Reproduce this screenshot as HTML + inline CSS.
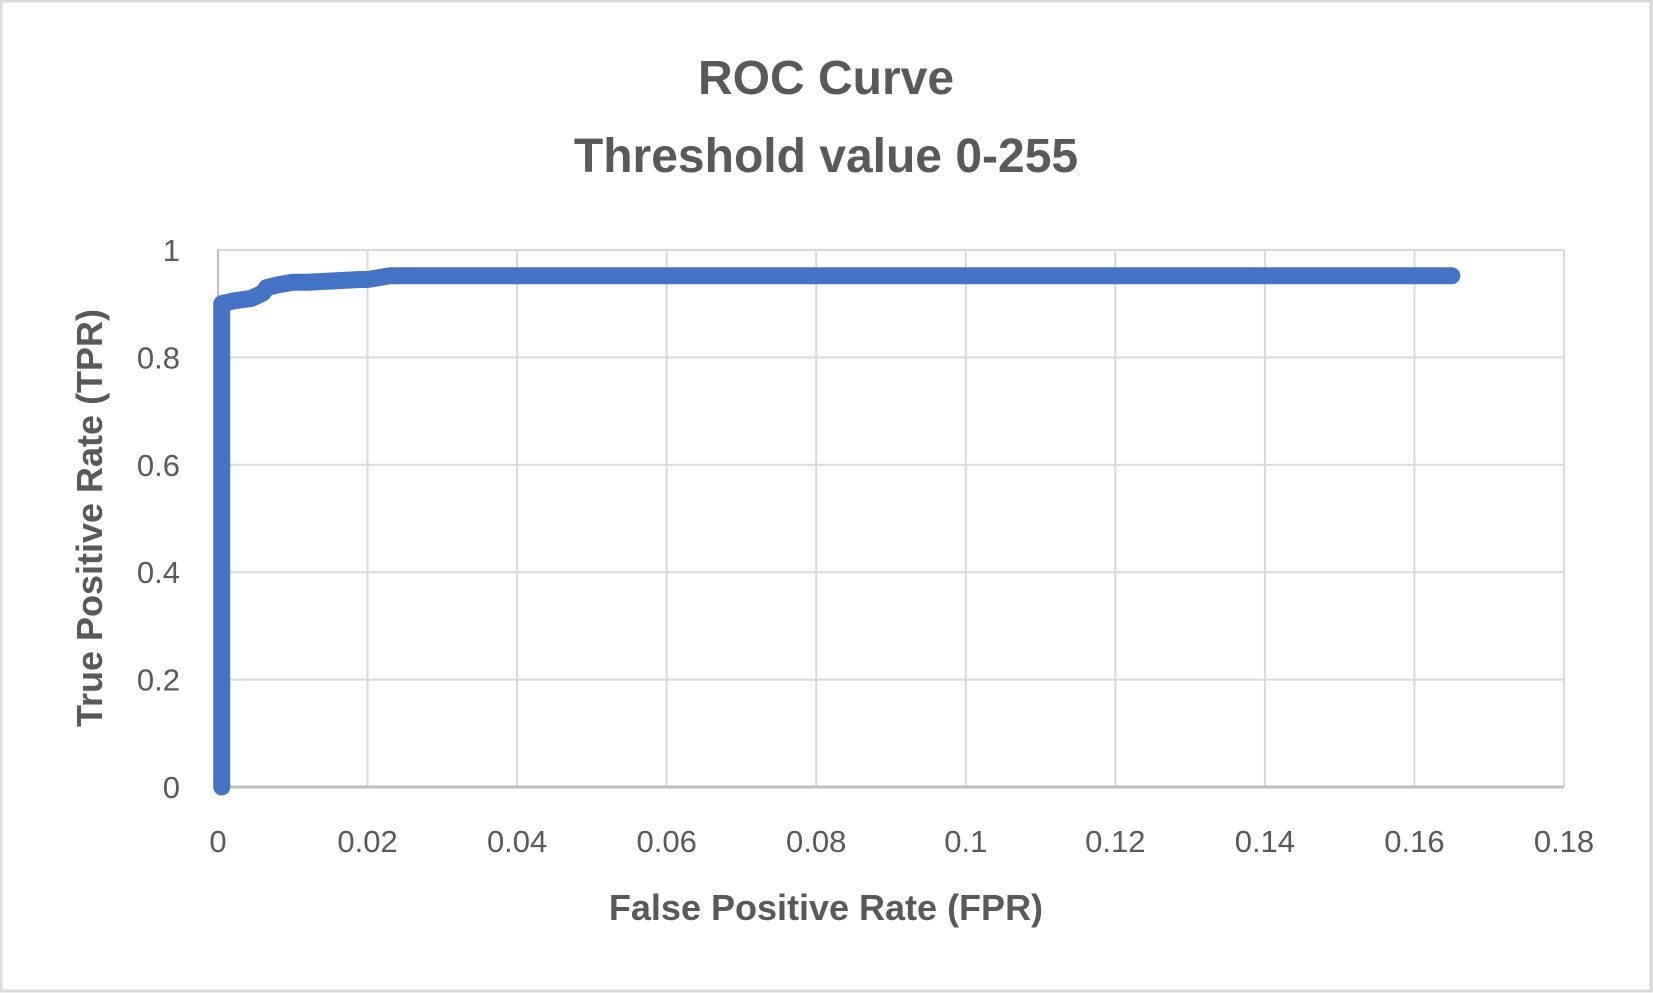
<!DOCTYPE html>
<html><head><meta charset="utf-8"><style>
body{margin:0;background:#fff}
svg{display:block;font-family:"Liberation Sans",sans-serif}
</style></head><body>
<svg width="1653" height="993">
<rect x="1" y="1" width="1650" height="990" fill="#fff" stroke="#d9d9d9" stroke-width="3"/>
<text x="826" y="94" text-anchor="middle" font-size="48" font-weight="bold" fill="#595959">ROC Curve</text>
<text x="826" y="172" text-anchor="middle" font-size="48" font-weight="bold" fill="#595959">Threshold value 0-255</text>
<g id="grid"></g>
<g id="ticks"></g>
<g id="series"></g>
<text x="826" y="920" text-anchor="middle" font-size="36" font-weight="bold" fill="#595959">False Positive Rate (FPR)</text>
<text transform="translate(102,518) rotate(-90)" text-anchor="middle" font-size="36" font-weight="bold" fill="#595959">True Positive Rate (TPR)</text>
</svg>
<script>
const xTicks=[0,0.02,0.04,0.06,0.08,0.1,0.12,0.14,0.16,0.18];
const xTickLabels=["0","0.02","0.04","0.06","0.08","0.1","0.12","0.14","0.16","0.18"];
const yTicks=[0,0.2,0.4,0.6,0.8,1];
const yTickLabels=["0","0.2","0.4","0.6","0.8","1"];
const fpr=[0.0005,0.0005,0.002,0.0045,0.006,0.0065,0.008,0.01,0.012,0.019,0.02,0.023,0.165];
const tpr=[0,0.9,0.905,0.91,0.92,0.93,0.935,0.94,0.94,0.945,0.945,0.952,0.952];
const L=218,R=1564,T=250,B=787;
const xs=v=>L+(v-0)/(0.18)*(R-L);
const ys=v=>B-v*(B-T);
const NS="http://www.w3.org/2000/svg";
const grid=document.getElementById('grid'),ticks=document.getElementById('ticks'),ser=document.getElementById('series');
function mk(tag,attrs,parent){const e=document.createElementNS(NS,tag);for(const k in attrs)e.setAttribute(k,attrs[k]);parent.appendChild(e);return e;}
xTicks.forEach((v,i)=>{
 if(i>0){const g=mk('line',{x1:xs(v),x2:xs(v),y1:T,y2:B,stroke:'#d9d9d9','stroke-width':2},grid);
 
 }
 const t=mk('text',{x:xs(v),y:852,'text-anchor':'middle','font-size':31,fill:'#595959'},ticks);
 t.textContent=xTickLabels[i];
 
 
});
yTicks.forEach((v,i)=>{
 if(i>0){const g=mk('line',{x1:L,x2:R,y1:ys(v),y2:ys(v),stroke:'#d9d9d9','stroke-width':2},grid);
 
 }
 const t=mk('text',{x:180,y:ys(v)+11,'text-anchor':'end','font-size':31,fill:'#595959'},ticks);
 t.textContent=yTickLabels[i];
 
 
});
const ya=mk('line',{x1:L,x2:L,y1:T,y2:B,stroke:'#bfbfbf','stroke-width':2},grid);


const xa=mk('line',{x1:L,x2:R,y1:B,y2:B,stroke:'#bfbfbf','stroke-width':3},grid);


const pts=fpr.map((v,i)=>xs(v)+','+ys(tpr[i])).join(' ');
const pl=mk('polyline',{points:pts,fill:'none',stroke:'#4472c4','stroke-width':17,'stroke-linejoin':'round','stroke-linecap':'round'},ser);


</script>
</body></html>
